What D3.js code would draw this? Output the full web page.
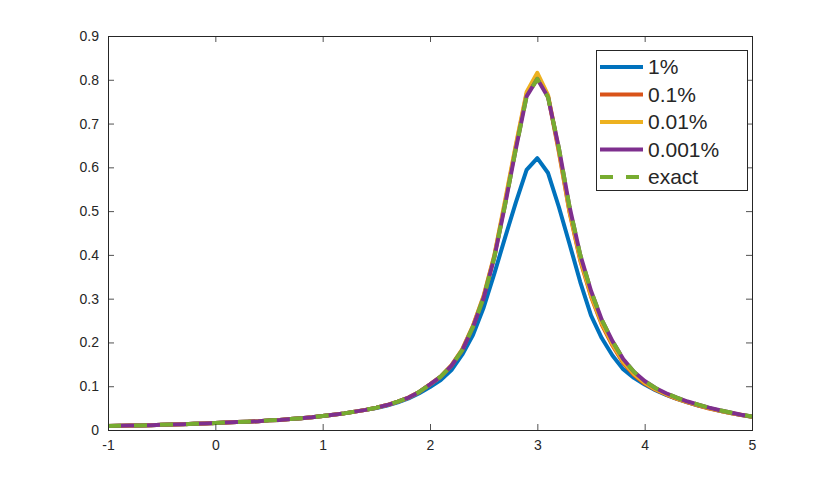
<!DOCTYPE html>
<html>
<head>
<meta charset="utf-8">
<script src="https://cdn.jsdelivr.net/npm/d3@7"></script>
<style>
  body { margin: 0; background: #fff; }
  text { font-family: "Liberation Sans", Arial, Helvetica, sans-serif; fill: #262626; }
</style>
</head>
<body>
<div id="chart"></div>
<script>
// x grid and series
const xs = [-1.0,-0.9,-0.8,-0.7,-0.6,-0.5,-0.4,-0.3,-0.2,-0.1,
  0.0,0.1,0.2,0.3,0.4,0.5,0.6,0.7,0.8,0.9,
  1.0,1.1,1.2,1.3,1.4,1.5,1.6,1.7,1.8,1.9,
  2.0,2.1,2.2,2.3,2.4,2.5,2.6,2.7,2.8,2.9,
  3.0,3.1,3.2,3.3,3.4,3.5,3.6,3.7,3.8,3.9,
  4.0,4.1,4.2,4.3,4.4,4.5,4.6,4.7,4.8,4.9,5.0];

const exact = [0.009,0.0095,0.010,0.0105,0.011,0.012,0.0125,0.013,0.014,0.015,
  0.016,0.017,0.018,0.019,0.020,0.022,0.023,0.025,0.027,0.029,
  0.032,0.035,0.038,0.042,0.046,0.051,0.057,0.065,0.074,0.087,
  0.104,0.122,0.147,0.182,0.235,0.302,0.395,0.515,0.642,0.762,
  0.802,0.760,0.645,0.510,0.400,0.318,0.252,0.203,0.162,0.133,
  0.112,0.096,0.084,0.074,0.065,0.058,0.051,0.045,0.040,0.035,0.031];

const p1 = [0.009,0.0095,0.010,0.0105,0.011,0.012,0.0125,0.013,0.014,0.015,
  0.016,0.017,0.018,0.019,0.020,0.022,0.023,0.025,0.027,0.029,
  0.032,0.035,0.038,0.042,0.046,0.050,0.056,0.063,0.072,0.084,
  0.098,0.114,0.137,0.172,0.217,0.280,0.358,0.440,0.520,0.594,
  0.621,0.587,0.510,0.425,0.338,0.262,0.210,0.170,0.139,0.119,
  0.104,0.091,0.080,0.071,0.063,0.056,0.050,0.044,0.039,0.034,0.030];

const p01 = [0.009,0.0095,0.010,0.0105,0.011,0.012,0.0125,0.013,0.014,0.015,
  0.016,0.017,0.018,0.019,0.020,0.022,0.023,0.025,0.027,0.029,
  0.032,0.035,0.038,0.042,0.046,0.051,0.057,0.065,0.074,0.087,
  0.104,0.122,0.147,0.183,0.237,0.305,0.398,0.520,0.648,0.768,
  0.812,0.762,0.636,0.497,0.387,0.305,0.241,0.193,0.153,0.126,
  0.106,0.092,0.081,0.071,0.063,0.056,0.049,0.044,0.039,0.034,0.030];

const p001 = [0.009,0.0095,0.010,0.0105,0.011,0.012,0.0125,0.013,0.014,0.015,
  0.016,0.017,0.018,0.019,0.020,0.022,0.023,0.025,0.027,0.029,
  0.032,0.035,0.038,0.042,0.046,0.051,0.057,0.065,0.074,0.087,
  0.104,0.122,0.148,0.184,0.238,0.307,0.400,0.525,0.652,0.772,
  0.816,0.765,0.640,0.500,0.390,0.308,0.244,0.196,0.156,0.128,
  0.108,0.093,0.082,0.072,0.064,0.057,0.050,0.044,0.039,0.035,0.030];

const p0001 = [0.009,0.0095,0.010,0.0105,0.011,0.012,0.0125,0.013,0.014,0.015,
  0.016,0.017,0.018,0.019,0.020,0.022,0.023,0.025,0.027,0.029,
  0.032,0.035,0.038,0.042,0.046,0.051,0.057,0.065,0.074,0.087,
  0.104,0.122,0.147,0.182,0.235,0.302,0.395,0.515,0.642,0.762,
  0.802,0.760,0.645,0.510,0.400,0.318,0.252,0.203,0.162,0.133,
  0.112,0.096,0.084,0.074,0.065,0.058,0.051,0.045,0.040,0.035,0.031];

const labels = ["1%", "0.1%", "0.01%", "0.001%", "exact"];
const colors = ["#0072BD", "#D95319", "#EDB120", "#7E2F8E", "#77AC30"];
const xTicks = [-1, 0, 1, 2, 3, 4, 5];
const yTicks = [0, 0.1, 0.2, 0.3, 0.4, 0.5, 0.6, 0.7, 0.8, 0.9];

const width = 830, height = 483;
const margin = {top: 36, right: 78, bottom: 53, left: 108};
const iw = width - margin.left - margin.right;
const ih = height - margin.top - margin.bottom;

const svg = d3.select("#chart").append("svg")
    .attr("width", width)
    .attr("height", height);

const g = svg.append("g")
    .attr("transform", `translate(${margin.left},${margin.top})`);

const x = d3.scaleLinear().domain([-1, 5]).range([0, iw]);
const y = d3.scaleLinear().domain([0, 0.9]).range([ih, 0]);

// clip to the axes box
g.append("clipPath").attr("id", "clip")
  .append("rect").attr("width", iw).attr("height", ih);

const line = d3.line()
    .x(d => x(d[0]))
    .y(d => y(d[1]));

const series = [p1, p01, p001, p0001, exact];
const lines = g.append("g").attr("clip-path", "url(#clip)");
series.forEach((vals, i) => {
  lines.append("path")
      .datum(xs.map((xv, j) => [xv, vals[j]]))
      .attr("fill", "none")
      .attr("stroke", colors[i])
      .attr("stroke-width", 4)
      .attr("stroke-linejoin", "round")
      .attr("stroke-dasharray", i == 4 ? "13,13" : null)
      .attr("d", line);
});

// axes (ticks point inward, on all four sides)
const axisColor = "#262626";
const fmt = d => String(d);

const xb = g.append("g").attr("transform", `translate(0,${ih})`)
    .call(d3.axisBottom(x).tickValues(xTicks).tickSizeInner(-6).tickSizeOuter(0).tickPadding(10).tickFormat(fmt));
const xt = g.append("g")
    .call(d3.axisTop(x).tickValues(xTicks).tickSizeInner(-6).tickSizeOuter(0).tickFormat(""));
const yl = g.append("g")
    .call(d3.axisLeft(y).tickValues(yTicks).tickSizeInner(-6).tickSizeOuter(0).tickPadding(9).tickFormat(fmt));
const yr = g.append("g").attr("transform", `translate(${iw},0)`)
    .call(d3.axisRight(y).tickValues(yTicks).tickSizeInner(-6).tickSizeOuter(0).tickFormat(""));

[xb, xt, yl, yr].forEach(a => {
  a.select(".domain").remove();
  a.selectAll(".tick line").attr("stroke", axisColor).attr("stroke-width", 0.8);
  a.selectAll("text").style("font-size", "14px").attr("fill", axisColor);
});

g.append("rect")
    .attr("width", iw)
    .attr("height", ih)
    .attr("fill", "none")
    .attr("stroke", axisColor)
    .attr("stroke-width", 1)
    .attr("shape-rendering", "crispEdges");

// legend
const lg = svg.append("g").attr("transform", "translate(596,50)");
lg.append("rect")
    .attr("width", 151)
    .attr("height", 140)
    .attr("fill", "#fff")
    .attr("stroke", axisColor)
    .attr("stroke-width", 1)
    .attr("shape-rendering", "crispEdges");

labels.forEach((lab, i) => {
  const yy = 17 + i * 27.5;
  lg.append("line")
      .attr("x1", 4).attr("x2", 47)
      .attr("y1", yy).attr("y2", yy)
      .attr("stroke", colors[i])
      .attr("stroke-width", 4)
      .attr("stroke-dasharray", i == 4 ? "13,13" : null);
  lg.append("text")
      .attr("x", 52)
      .attr("y", yy)
      .attr("dy", "0.35em")
      .style("font-size", "21px")
      .text(lab);
});
</script>
</body>
</html>
